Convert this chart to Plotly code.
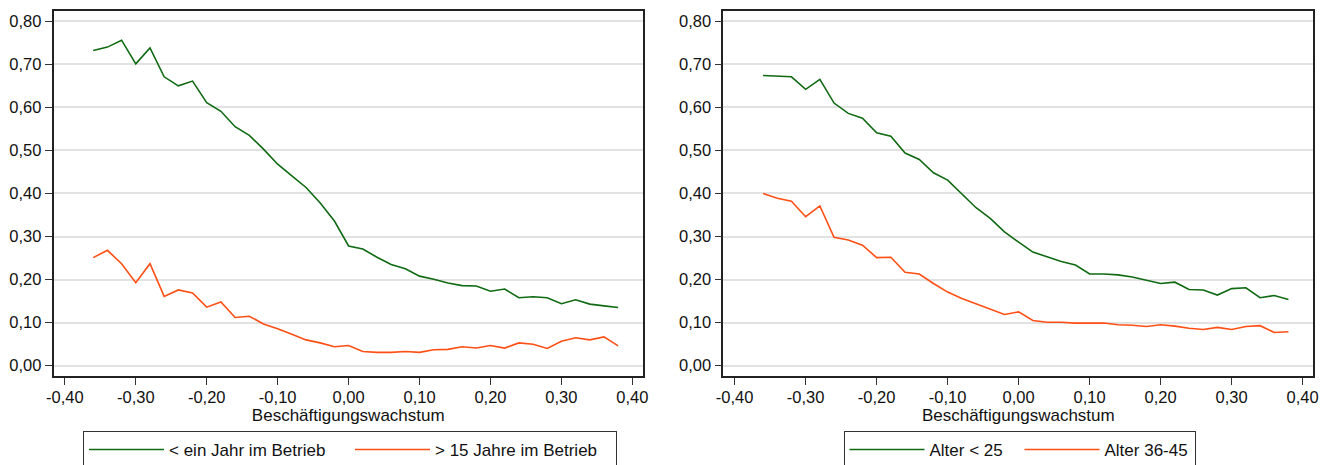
import plotly.graph_objects as go

x_vals = [-0.36, -0.34, -0.32, -0.30, -0.28, -0.26, -0.24, -0.22, -0.20, -0.18,
          -0.16, -0.14, -0.12, -0.10, -0.08, -0.06, -0.04, -0.02, 0.00, 0.02,
          0.04, 0.06, 0.08, 0.10, 0.12, 0.14, 0.16, 0.18, 0.20, 0.22,
          0.24, 0.26, 0.28, 0.30, 0.32, 0.34, 0.36, 0.38]

# Left panel
lt_ein_jahr = [0.732, 0.740, 0.756, 0.701, 0.738, 0.671, 0.650, 0.661, 0.611, 0.591,
               0.555, 0.535, 0.503, 0.468, 0.441, 0.414, 0.378, 0.336, 0.278, 0.271,
               0.252, 0.235, 0.225, 0.208, 0.201, 0.192, 0.186, 0.185, 0.173, 0.178,
               0.158, 0.160, 0.158, 0.144, 0.153, 0.143, 0.139, 0.135]
gt_15_jahre = [0.251, 0.268, 0.237, 0.193, 0.237, 0.161, 0.176, 0.169, 0.136, 0.148,
               0.112, 0.115, 0.097, 0.086, 0.073, 0.060, 0.053, 0.044, 0.047, 0.033,
               0.031, 0.031, 0.033, 0.031, 0.037, 0.038, 0.044, 0.041, 0.047, 0.041,
               0.053, 0.050, 0.040, 0.057, 0.065, 0.060, 0.067, 0.046]

# Right panel
alter_lt_25 = [0.674, 0.673, 0.671, 0.642, 0.665, 0.610, 0.586, 0.575, 0.541, 0.533,
               0.494, 0.479, 0.448, 0.431, 0.400, 0.367, 0.342, 0.311, 0.287, 0.264,
               0.253, 0.242, 0.234, 0.213, 0.213, 0.211, 0.206, 0.199, 0.191, 0.194,
               0.177, 0.176, 0.164, 0.179, 0.181, 0.158, 0.163, 0.154]
alter_36_45 = [0.400, 0.389, 0.382, 0.346, 0.371, 0.298, 0.292, 0.280, 0.251, 0.252,
               0.217, 0.213, 0.191, 0.171, 0.156, 0.144, 0.131, 0.119, 0.125, 0.105,
               0.101, 0.101, 0.099, 0.099, 0.099, 0.095, 0.094, 0.091, 0.095, 0.092,
               0.087, 0.084, 0.089, 0.084, 0.091, 0.093, 0.077, 0.079]

x_tickvals = [-0.4, -0.3, -0.2, -0.1, 0.0, 0.1, 0.2, 0.3, 0.4]
x_ticktext = ["-0,40", "-0,30", "-0,20", "-0,10", "0,00", "0,10", "0,20", "0,30", "0,40"]
y_tickvals = [0.0, 0.1, 0.2, 0.3, 0.4, 0.5, 0.6, 0.7, 0.8]
y_ticktext = ["0,00", "0,10", "0,20", "0,30", "0,40", "0,50", "0,60", "0,70", "0,80"]

x_title = "Beschäftigungswachstum"
names_left = ["< ein Jahr im Betrieb", "> 15 Jahre im Betrieb"]
names_right = ["Alter < 25", "Alter 36-45"]

GREEN = "#0f6a12"
ORANGE = "#ff4f14"
FONT = "Liberation Sans, Arial, sans-serif"

fig = go.Figure()
fig.add_trace(go.Scatter(x=x_vals, y=lt_ein_jahr, mode="lines", name=names_left[0],
                         line=dict(color=GREEN, width=1.6), xaxis="x", yaxis="y", legend="legend"))
fig.add_trace(go.Scatter(x=x_vals, y=gt_15_jahre, mode="lines", name=names_left[1],
                         line=dict(color=ORANGE, width=1.6), xaxis="x", yaxis="y", legend="legend"))
fig.add_trace(go.Scatter(x=x_vals, y=alter_lt_25, mode="lines", name=names_right[0],
                         line=dict(color=GREEN, width=1.6), xaxis="x2", yaxis="y2", legend="legend2"))
fig.add_trace(go.Scatter(x=x_vals, y=alter_36_45, mode="lines", name=names_right[1],
                         line=dict(color=ORANGE, width=1.6), xaxis="x2", yaxis="y2", legend="legend2"))

# page body has an 8px margin: figure coordinates = screen coordinates - 8
OFF = 8
W, H = 1333 - OFF, 465 - OFF
ydom = [1 - (376 - OFF) / H, 1 - (10.5 - OFF) / H]

xcommon = dict(range=[-0.416, 0.415], tickvals=x_tickvals, ticktext=x_ticktext,
               ticks="outside", ticklen=7, tickwidth=1.3, tickcolor="#333",
               showgrid=False, zeroline=False, showline=True, linecolor="#222",
               linewidth=1.6, mirror=True, tickfont=dict(size=16.5, color="#111"),
               automargin=False, ticklabelstandoff=-2,
               title=dict(text=x_title, font=dict(size=17, color="#111"), standoff=0))
ycommon = dict(range=[-0.0239, 0.825], tickvals=y_tickvals, ticktext=y_ticktext,
               ticks="outside", ticklen=7, tickwidth=1.3, tickcolor="#333",
               showgrid=True, gridcolor="#e2e2e2", gridwidth=1.5, zeroline=False,
               showline=True, linecolor="#222", linewidth=1.6, mirror=True,
               automargin=False,
               tickfont=dict(size=16.5, color="#111"), domain=ydom)

legcommon = dict(orientation="h", yanchor="top", xanchor="center", y=1 - (431 - OFF) / H,
                 bordercolor="#333", borderwidth=1, bgcolor="white",
                 font=dict(size=17, color="#111"), itemwidth=75)

fig.update_layout(
    width=W, height=H,
    margin=dict(l=0, r=0, t=0, b=0, autoexpand=False),
    paper_bgcolor="white", plot_bgcolor="white",
    font=dict(family=FONT, size=17, color="#111"),
    xaxis=dict(domain=[(53.5 - OFF) / W, (643 - OFF) / W], anchor="y", **xcommon),
    yaxis=dict(anchor="x", **ycommon),
    xaxis2=dict(domain=[(723.3 - OFF) / W, (1313.3 - OFF) / W], anchor="y2", **xcommon),
    yaxis2=dict(anchor="x2", **ycommon),
    legend=dict(x=(350 - OFF) / W, entrywidth=176, **legcommon),
    legend2=dict(x=(1019.5 - OFF) / W, entrywidth=85, **legcommon),
    showlegend=True,
)

fig.write_html("out.html")
